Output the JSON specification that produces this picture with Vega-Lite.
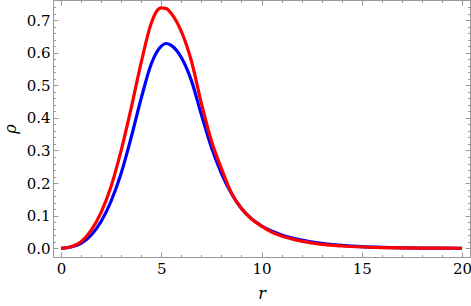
{
  "$schema": "https://vega.github.io/schema/vega-lite/v6.json",
  "width": 417,
  "height": 257,
  "autosize": {"type": "none"},
  "padding": {"left": 53, "top": 0, "right": 1, "bottom": 49},
  "background": "white",
  "config": {
    "font": "DejaVu Serif",
    "view": {"stroke": "#999999", "strokeWidth": 1},
    "axis": {
      "domainColor": "#999999",
      "tickColor": "#999999",
      "grid": false,
      "labelFont": "DejaVu Serif",
      "labelFontSize": 15,
      "labelColor": "black",
      "titleFont": "DejaVu Serif",
      "titleFontSize": 16,
      "titleFontWeight": "normal",
      "titleFontStyle": "italic",
      "titleColor": "black"
    }
  },
  "data": {
    "values": [
      {"r": 0, "rho": 0, "series": "s1"},
      {"r": 0.5, "rho": 0.004, "series": "s1"},
      {"r": 1, "rho": 0.015, "series": "s1"},
      {"r": 1.5, "rho": 0.04, "series": "s1"},
      {"r": 2, "rho": 0.082, "series": "s1"},
      {"r": 2.5, "rho": 0.145, "series": "s1"},
      {"r": 3, "rho": 0.23, "series": "s1"},
      {"r": 3.5, "rho": 0.34, "series": "s1"},
      {"r": 4, "rho": 0.46, "series": "s1"},
      {"r": 4.5, "rho": 0.565, "series": "s1"},
      {"r": 5, "rho": 0.62, "series": "s1"},
      {"r": 5.25, "rho": 0.628, "series": "s1"},
      {"r": 5.5, "rho": 0.622, "series": "s1"},
      {"r": 6, "rho": 0.585, "series": "s1"},
      {"r": 6.5, "rho": 0.515, "series": "s1"},
      {"r": 7, "rho": 0.41, "series": "s1"},
      {"r": 7.5, "rho": 0.31, "series": "s1"},
      {"r": 8, "rho": 0.23, "series": "s1"},
      {"r": 8.5, "rho": 0.168, "series": "s1"},
      {"r": 9, "rho": 0.122, "series": "s1"},
      {"r": 9.5, "rho": 0.091, "series": "s1"},
      {"r": 10, "rho": 0.069, "series": "s1"},
      {"r": 10.5, "rho": 0.053, "series": "s1"},
      {"r": 11, "rho": 0.041, "series": "s1"},
      {"r": 12, "rho": 0.025, "series": "s1"},
      {"r": 13, "rho": 0.015, "series": "s1"},
      {"r": 14, "rho": 0.009, "series": "s1"},
      {"r": 15, "rho": 0.005, "series": "s1"},
      {"r": 16, "rho": 0.003, "series": "s1"},
      {"r": 17, "rho": 0.0015, "series": "s1"},
      {"r": 18, "rho": 0.0008, "series": "s1"},
      {"r": 19, "rho": 0.0004, "series": "s1"},
      {"r": 20, "rho": 0.0002, "series": "s1"},
      {"r": 0, "rho": 0, "series": "s2"},
      {"r": 0.5, "rho": 0.005, "series": "s2"},
      {"r": 1, "rho": 0.02, "series": "s2"},
      {"r": 1.5, "rho": 0.055, "series": "s2"},
      {"r": 2, "rho": 0.11, "series": "s2"},
      {"r": 2.5, "rho": 0.19, "series": "s2"},
      {"r": 3, "rho": 0.3, "series": "s2"},
      {"r": 3.5, "rho": 0.43, "series": "s2"},
      {"r": 4, "rho": 0.57, "series": "s2"},
      {"r": 4.5, "rho": 0.69, "series": "s2"},
      {"r": 4.75, "rho": 0.725, "series": "s2"},
      {"r": 5, "rho": 0.737, "series": "s2"},
      {"r": 5.25, "rho": 0.735, "series": "s2"},
      {"r": 5.5, "rho": 0.72, "series": "s2"},
      {"r": 6, "rho": 0.665, "series": "s2"},
      {"r": 6.5, "rho": 0.575, "series": "s2"},
      {"r": 7, "rho": 0.445, "series": "s2"},
      {"r": 7.5, "rho": 0.33, "series": "s2"},
      {"r": 8, "rho": 0.245, "series": "s2"},
      {"r": 8.5, "rho": 0.17, "series": "s2"},
      {"r": 9, "rho": 0.122, "series": "s2"},
      {"r": 9.5, "rho": 0.09, "series": "s2"},
      {"r": 10, "rho": 0.068, "series": "s2"},
      {"r": 10.5, "rho": 0.05, "series": "s2"},
      {"r": 11, "rho": 0.038, "series": "s2"},
      {"r": 12, "rho": 0.022, "series": "s2"},
      {"r": 13, "rho": 0.012, "series": "s2"},
      {"r": 14, "rho": 0.007, "series": "s2"},
      {"r": 15, "rho": 0.004, "series": "s2"},
      {"r": 16, "rho": 0.002, "series": "s2"},
      {"r": 17, "rho": 0.001, "series": "s2"},
      {"r": 18, "rho": 0.0006, "series": "s2"},
      {"r": 19, "rho": 0.0003, "series": "s2"},
      {"r": 20, "rho": 0.0002, "series": "s2"}
    ]
  },
  "layer": [
    {
      "mark": {"type": "line", "strokeWidth": 3.2, "interpolate": "monotone", "clip": true},
      "encoding": {
        "x": {
          "field": "r", "type": "quantitative",
          "scale": {"domain": [-0.4, 20.4], "nice": false, "zero": false},
          "axis": {
            "orient": "bottom",
            "title": "r",
            "values": [0,1,2,3,4,5,6,7,8,9,10,11,12,13,14,15,16,17,18,19,20],
            "labelExpr": "datum.value % 5 === 0 ? datum.label : ''",
            "format": "d",
            "tickSize": {"condition": {"test": "datum.value % 5 === 0", "value": -5}, "value": -2.5},
            "labelPadding": 9,
            "titlePadding": 9
          }
        },
        "y": {
          "field": "rho", "type": "quantitative",
          "scale": {"domain": [-0.0267, 0.7614], "nice": false, "zero": false},
          "axis": {
            "orient": "left",
            "title": "ρ",
            "values": [0,0.02,0.04,0.06,0.08,0.1,0.12,0.14,0.16,0.18,0.2,0.22,0.24,0.26,0.28,0.3,0.32,0.34,0.36,0.38,0.4,0.42,0.44,0.46,0.48,0.5,0.52,0.54,0.56,0.58,0.6,0.62,0.64,0.66,0.68,0.7,0.72,0.74,0.76],
            "format": ".1f",
            "labelExpr": "abs(datum.value*10 - round(datum.value*10)) < 0.001 ? datum.label : ''",
            "tickSize": {"condition": {"test": "abs(datum.value*10 - round(datum.value*10)) < 0.001", "value": -5}, "value": -2.5},
            "labelPadding": 8,
            "titlePadding": 8
          }
        },
        "color": {
          "field": "series", "type": "nominal",
          "scale": {"domain": ["s1", "s2"], "range": ["#0000ff", "#ff0000"]},
          "legend": null
        }
      }
    },
    {
      "mark": {"type": "line", "opacity": 0},
      "encoding": {
        "x": {
          "field": "r", "type": "quantitative",
          "axis": {
            "orient": "top", "title": null, "labels": false,
            "values": [0,1,2,3,4,5,6,7,8,9,10,11,12,13,14,15,16,17,18,19,20],
            "tickSize": {"condition": {"test": "datum.value % 5 === 0", "value": -5}, "value": -2.5}
          }
        },
        "y": {
          "field": "rho", "type": "quantitative",
          "axis": {
            "orient": "right", "title": null, "labels": false,
            "values": [0,0.02,0.04,0.06,0.08,0.1,0.12,0.14,0.16,0.18,0.2,0.22,0.24,0.26,0.28,0.3,0.32,0.34,0.36,0.38,0.4,0.42,0.44,0.46,0.48,0.5,0.52,0.54,0.56,0.58,0.6,0.62,0.64,0.66,0.68,0.7,0.72,0.74,0.76],
            "tickSize": {"condition": {"test": "abs(datum.value*10 - round(datum.value*10)) < 0.001", "value": -5}, "value": -2.5}
          }
        },
        "detail": {"field": "series", "type": "nominal"}
      }
    }
  ],
  "resolve": {"axis": {"x": "independent", "y": "independent"}}
}
